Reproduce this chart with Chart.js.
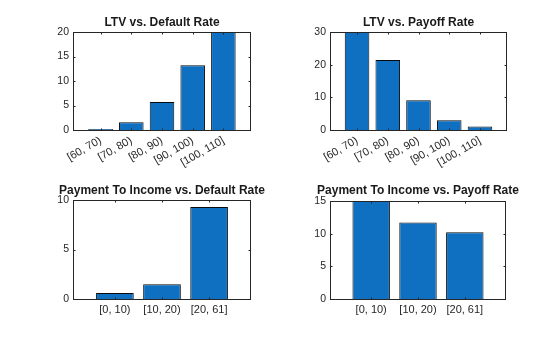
<!DOCTYPE html>
<html>
<head>
<meta charset="utf-8">
<script src="https://cdn.jsdelivr.net/npm/chart.js@4/dist/chart.umd.min.js"></script>
<style>
  html, body { margin: 0; padding: 0; background: #ffffff; }
  #page { position: relative; width: 560px; height: 337px; overflow: hidden; background: #fff; }
  .panel { position: absolute; }
</style>
</head>
<body>
<div id="page">
  <div class="panel" style="left:0px;top:0px;width:324px;height:168px;"><canvas id="c1" width="324" height="168"></canvas></div>
  <div class="panel" style="left:280px;top:0px;width:277px;height:168px;"><canvas id="c2" width="277" height="168"></canvas></div>
  <div class="panel" style="left:0px;top:168px;width:324px;height:169px;"><canvas id="c3" width="324" height="169"></canvas></div>
  <div class="panel" style="left:280px;top:168px;width:276px;height:169px;"><canvas id="c4" width="276" height="169"></canvas></div>
</div>
<script>
// ---- Data ----
const ltvCategories = ['[60, 70)', '[70, 80)', '[80, 90)', '[90, 100)', '[100, 110]'];
const ltvDefaultRate = [0.2, 1.6, 5.7, 13.2, 20];
const ltvPayoffRate = [30, 21.4, 9.1, 3.0, 1.1];
const ptiCategories = ['[0, 10)', '[10, 20)', '[20, 61]'];
const ptiDefaultRate = [0.6, 1.5, 9.3];
const ptiPayoffRate = [15, 11.7, 10.2];

const ltvDefaultTicks = [0, 5, 10, 15, 20];
const ltvPayoffTicks = [0, 10, 20, 30];
const ptiDefaultTicks = [0, 5, 10];
const ptiPayoffTicks = [0, 5, 10, 15];

const titles = ['LTV vs. Default Rate', 'LTV vs. Payoff Rate',
                'Payment To Income vs. Default Rate', 'Payment To Income vs. Payoff Rate'];

// ---- Styling ----
const BAR_COLOR = '#0f6fc0';
const AXIS_COLOR = '#262626';
const FONT = "'Liberation Sans', Arial, Helvetica, sans-serif";

const matlabBox = {
  id: 'matlabBox',
  afterDraw(chart) {
    const { ctx, chartArea: a, scales: { x, y } } = chart;
    const L = 2;
    ctx.save();
    ctx.strokeStyle = AXIS_COLOR;
    ctx.lineWidth = 1;
    const left = Math.round(a.left) + 0.5, right = Math.round(a.right) - 0.5;
    const top = Math.round(a.top) + 0.5, bottom = Math.round(a.bottom) + 0.5;
    ctx.beginPath();
    x.ticks.forEach(t => {
      const px = Math.round(x.getPixelForValue(t.value)) + 0.5;
      ctx.moveTo(px, bottom); ctx.lineTo(px, bottom - L);
      ctx.moveTo(px, top); ctx.lineTo(px, top + L);
    });
    y.ticks.forEach(t => {
      const py = Math.round(y.getPixelForValue(t.value)) + 0.5;
      ctx.moveTo(left, py); ctx.lineTo(left + L, py);
      ctx.moveTo(right, py); ctx.lineTo(right - L, py);
    });
    ctx.stroke();
    ctx.strokeRect(left, top, right - left, bottom - top);
    ctx.restore();
  }
};

function makeChart(id, cats, values, yTicks, title, opts) {
  const n = cats.length;
  const pad = opts.edge;
  new Chart(document.getElementById(id), {
    type: 'bar',
    data: {
      datasets: [{
        data: values.map((v, i) => ({ x: i + 1, y: v })),
        backgroundColor: BAR_COLOR,
        borderColor: '#0a0a0a',
        borderWidth: 1,
        barPercentage: 0.8,
        categoryPercentage: 1.0
      }]
    },
    options: {
      responsive: false,
      animation: false,
      events: [],
      layout: { padding: 0 },
      plugins: {
        legend: { display: false },
        tooltip: { enabled: false },
        title: {
          display: true,
          text: title,
          color: '#1a1a1a',
          font: { family: FONT, size: 12, weight: 'bold' },
          padding: { top: opts.titleTop, bottom: opts.titleBottom }
        }
      },
      scales: {
        x: {
          type: 'linear',
          offset: false,
          min: pad,
          max: n + 1 - pad,
          grid: { display: false, drawTicks: false, offset: false },
          border: { display: false },
          afterBuildTicks: s => { s.ticks = cats.map((c, i) => ({ value: i + 1 })); },
          afterFit: s => { s.height = opts.xHeight; },
          ticks: {
            autoSkip: false,
            minRotation: opts.rot,
            maxRotation: opts.rot,
            padding: 4,
            color: AXIS_COLOR,
            font: { family: FONT, size: 11 },
            callback: v => cats[Math.round(v) - 1] || ''
          }
        },
        y: {
          min: yTicks[0],
          max: yTicks[yTicks.length - 1],
          grid: { display: false, drawTicks: false },
          border: { display: false },
          afterBuildTicks: s => { s.ticks = yTicks.map(v => ({ value: v })); },
          afterFit: s => { s.width = opts.yWidth; },
          ticks: {
            padding: 4,
            color: AXIS_COLOR,
            font: { family: FONT, size: 10.5 }
          }
        },
        // empty right-side spacer so the title centres over the plot box
        ySpacer: {
          position: 'right',
          display: true,
          grid: { display: false, drawTicks: false },
          border: { display: false },
          ticks: { display: false },
          afterFit: s => { s.width = opts.yWidth; }
        }
      }
    },
    plugins: [matlabBox]
  });
}

makeChart('c1', ltvCategories, ltvDefaultRate, ltvDefaultTicks, titles[0],
  { edge: 0.1, yWidth: 73, xHeight: 38, rot: 30, titleTop: 15, titleBottom: 2.6 });
makeChart('c2', ltvCategories, ltvPayoffRate, ltvPayoffTicks, titles[1],
  { edge: 0.12, yWidth: 50, xHeight: 38, rot: 30, titleTop: 15, titleBottom: 2.6 });
makeChart('c3', ptiCategories, ptiDefaultRate, ptiDefaultTicks, titles[2],
  { edge: 0.11, yWidth: 73, xHeight: 38, rot: 0, titleTop: 15.8, titleBottom: 1.8 });
makeChart('c4', ptiCategories, ptiPayoffRate, ptiPayoffTicks, titles[3],
  { edge: 0.12, yWidth: 50, xHeight: 38, rot: 0, titleTop: 15.8, titleBottom: 2.8 });
</script>
</body>
</html>
